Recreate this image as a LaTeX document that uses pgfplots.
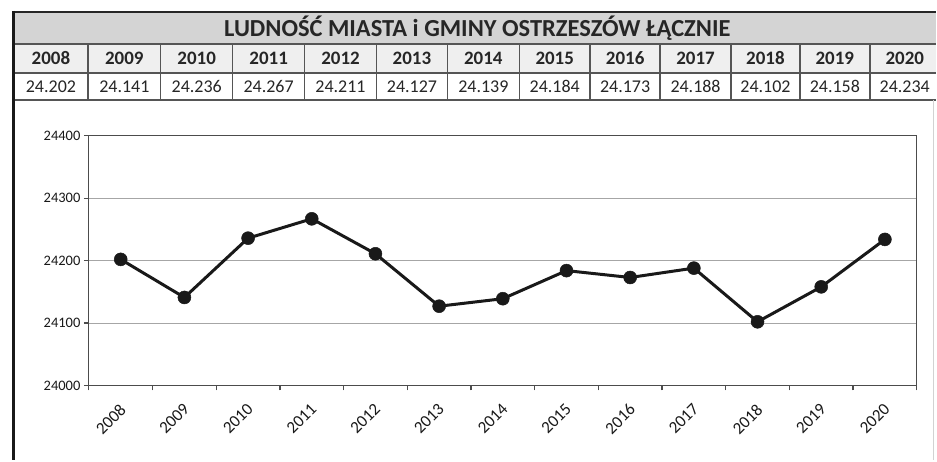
\documentclass[border=0pt]{standalone}
\usepackage{fontspec}
\setmainfont{Carlito}
\usepackage{pgfplots}
\pgfplotsset{compat=1.18}
\definecolor{hdr}{HTML}{D4D4D4}
\definecolor{yrrow}{HTML}{EFEFEF}
\definecolor{rulec}{HTML}{555555}
\begin{document}
\begin{tikzpicture}[x=1pt,y=1pt]
\path[fill=white] (0,0) rectangle (937,461);
% header table
\fill[hdr] (14,449) rectangle (937,417);
\fill[yrrow] (14,417) rectangle (937,388);
\draw[rulec, line width=1.4pt] (14,417) -- (937,417);
\draw[rulec, line width=1.4pt] (14,388) -- (937,388);
\draw[rulec, line width=1.6pt] (14,361) -- (937,361);
\foreach \xb in {88,161,233,305,377,448,520,591,661,732,801,871}
  \draw[rulec, line width=1.4pt] (\xb,417) -- (\xb,361);
\draw[black!85, line width=2.6pt] (12.7,449) -- (937,449);
\draw[black!90, line width=3pt] (14,450) -- (14,0);
\draw[gray!35, line width=0.8pt] (935,361) -- (935,0);
\node[font=\bfseries\fontsize{24.5}{28}\selectfont, text=black!85] at (478,432.5) {LUDNOŚĆ MIASTA i GMINY OSTRZESZÓW ŁĄCZNIE};
\foreach \a/\b/\yr/\v in {14/88/2008/24.202, 88/161/2009/24.141, 161/233/2010/24.236, 233/305/2011/24.267, 305/377/2012/24.211, 377/448/2013/24.127, 448/520/2014/24.139, 520/591/2015/24.184, 591/661/2016/24.173, 661/732/2017/24.188, 732/801/2018/24.102, 801/871/2019/24.158, 871/941/2020/24.234}{
  \node[font=\bfseries\fontsize{19}{21}\selectfont, text=black!85] at ({(\a+\b)/2},402.5) {\yr};
  \node[font=\fontsize{18}{20}\selectfont, text=black!85] at ({(\a+\b)/2},374.5) {\v};
}
\begin{axis}[
  at={(89pt,75pt)}, anchor=south west,
  scale only axis, width=829pt, height=250pt,
  xmin=-0.5, xmax=12.5, ymin=24000, ymax=24400,
  ytick={24000,24100,24200,24300,24400},
  scaled y ticks=false,
  ymajorgrids,
  grid style={gray!70, line width=1pt},
  axis line style={gray!60!black, line width=1.2pt},
  xtick={-0.5,0.5,...,12.5},
  xticklabels={},
  extra x ticks={0,1,2,3,4,5,6,7,8,9,10,11,12},
  extra x tick labels={2008,2009,2010,2011,2012,2013,2014,2015,2016,2017,2018,2019,2020},
  extra x tick style={major tick length=0pt, grid=none,
     xticklabel style={xshift=-2pt, yshift=-17pt, rotate=45, anchor=north east, inner sep=0pt,
       font=\fontsize{17}{19}\selectfont, text=black!90}},
  tick align=outside, tick pos=left,
  major tick length=5pt,
  tick style={gray!60!black, line width=1.2pt},
  yticklabel style={font=\fontsize{14.5}{17}\selectfont, text=black!90},
  /pgf/number format/assume math mode=true,
  /pgf/number format/1000 sep={},
  clip=false,
]
\addplot[color=black!90, line width=3pt, mark=*, mark size=6.5pt,
  mark options={fill=black!90, draw=black!90, line width=0.5pt}]
  coordinates {(0,24202) (1,24141) (2,24236) (3,24267) (4,24211) (5,24127) (6,24139) (7,24184) (8,24173) (9,24188) (10,24102) (11,24158) (12,24234)};
\end{axis}
\end{tikzpicture}
\end{document}
